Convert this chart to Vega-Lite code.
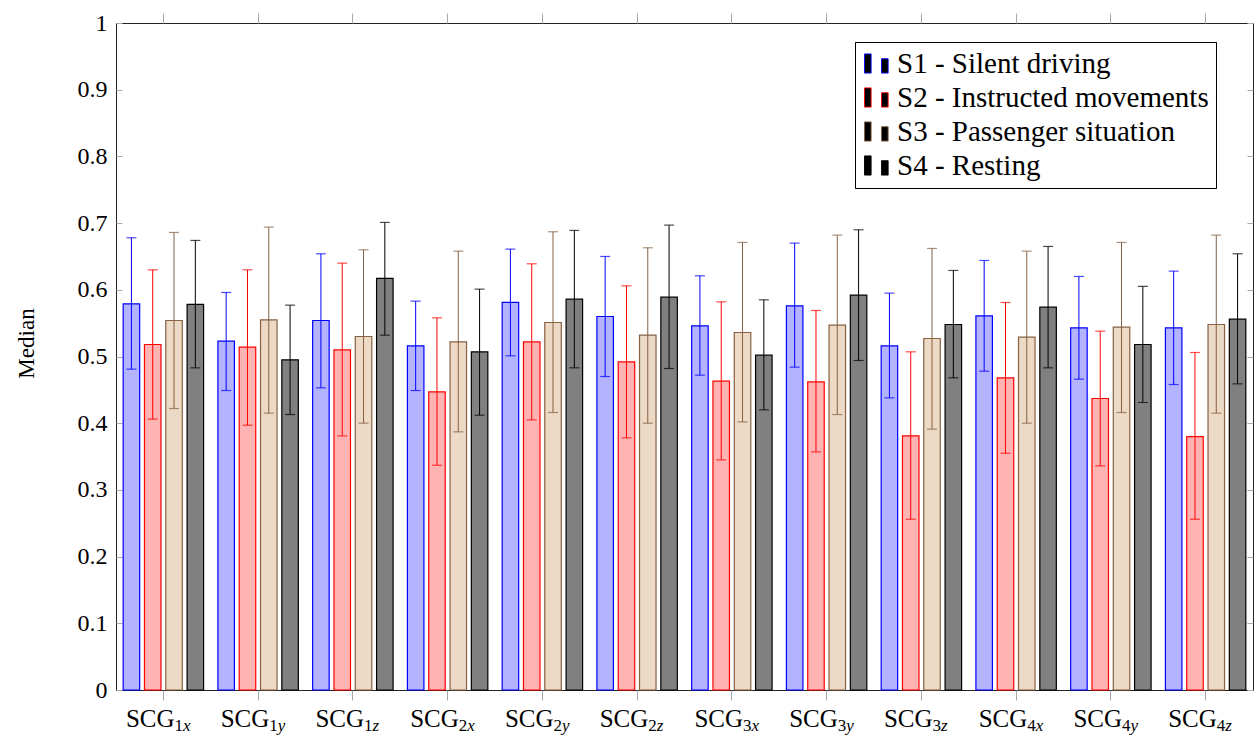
{
  "$schema": "https://vega.github.io/schema/vega-lite/v6.json",
  "width": 1137,
  "height": 667,
  "autosize": {"type": "none"},
  "padding": {"left": 116, "top": 23, "right": 2, "bottom": 49},
  "background": "white",
  "config": {
    "font": "Liberation Serif",
    "style": {
      "guide-label": {"font": "Liberation Serif", "fill": "black"},
      "guide-title": {"font": "Liberation Serif", "fill": "black"}
    },
    "view": {"stroke": "#222222", "strokeWidth": 1},
    "axis": {"grid": false, "labelFont": "Liberation Serif", "titleFont": "Liberation Serif", "labelColor": "black", "titleColor": "black"},
    "legend": {
      "orient": "none",
      "legendX": 739,
      "legendY": 19,
      "titleFont": "Liberation Serif",
      "symbolType": "M-1,-0.8H-0.45V0.8H-1Z M0.42,-0.4H0.97V0.8H0.42Z",
      "symbolSize": 576,
      "symbolStrokeWidth": 0.9,
      "symbolOpacity": 1,
      "labelFontSize": 29,
      "labelFont": "Liberation Serif",
      "labelColor": "black",
      "labelLimit": 600,
      "labelOffset": 6,
      "rowPadding": 4,
      "padding": 7,
      "strokeColor": "black",
      "fillColor": "white"
    }
  },
  "datasets": {
    "bars": [
      {"group": "1x", "series": "S1 - Silent driving", "median": 0.579, "lo": 0.481, "hi": 0.678},
      {"group": "1x", "series": "S2 - Instructed movements", "median": 0.518, "lo": 0.406, "hi": 0.630},
      {"group": "1x", "series": "S3 - Passenger situation", "median": 0.554, "lo": 0.422, "hi": 0.686},
      {"group": "1x", "series": "S4 - Resting", "median": 0.578, "lo": 0.483, "hi": 0.674},
      {"group": "1y", "series": "S1 - Silent driving", "median": 0.523, "lo": 0.449, "hi": 0.596},
      {"group": "1y", "series": "S2 - Instructed movements", "median": 0.514, "lo": 0.397, "hi": 0.630},
      {"group": "1y", "series": "S3 - Passenger situation", "median": 0.555, "lo": 0.415, "hi": 0.694},
      {"group": "1y", "series": "S4 - Resting", "median": 0.495, "lo": 0.413, "hi": 0.577},
      {"group": "1z", "series": "S1 - Silent driving", "median": 0.554, "lo": 0.453, "hi": 0.654},
      {"group": "1z", "series": "S2 - Instructed movements", "median": 0.510, "lo": 0.381, "hi": 0.640},
      {"group": "1z", "series": "S3 - Passenger situation", "median": 0.530, "lo": 0.400, "hi": 0.660},
      {"group": "1z", "series": "S4 - Resting", "median": 0.617, "lo": 0.532, "hi": 0.701},
      {"group": "2x", "series": "S1 - Silent driving", "median": 0.516, "lo": 0.449, "hi": 0.583},
      {"group": "2x", "series": "S2 - Instructed movements", "median": 0.447, "lo": 0.337, "hi": 0.558},
      {"group": "2x", "series": "S3 - Passenger situation", "median": 0.522, "lo": 0.387, "hi": 0.658},
      {"group": "2x", "series": "S4 - Resting", "median": 0.507, "lo": 0.412, "hi": 0.601},
      {"group": "2y", "series": "S1 - Silent driving", "median": 0.581, "lo": 0.501, "hi": 0.661},
      {"group": "2y", "series": "S2 - Instructed movements", "median": 0.522, "lo": 0.405, "hi": 0.639},
      {"group": "2y", "series": "S3 - Passenger situation", "median": 0.551, "lo": 0.416, "hi": 0.687},
      {"group": "2y", "series": "S4 - Resting", "median": 0.586, "lo": 0.483, "hi": 0.689},
      {"group": "2z", "series": "S1 - Silent driving", "median": 0.560, "lo": 0.470, "hi": 0.650},
      {"group": "2z", "series": "S2 - Instructed movements", "median": 0.492, "lo": 0.378, "hi": 0.606},
      {"group": "2z", "series": "S3 - Passenger situation", "median": 0.532, "lo": 0.400, "hi": 0.663},
      {"group": "2z", "series": "S4 - Resting", "median": 0.589, "lo": 0.482, "hi": 0.697},
      {"group": "3x", "series": "S1 - Silent driving", "median": 0.546, "lo": 0.472, "hi": 0.621},
      {"group": "3x", "series": "S2 - Instructed movements", "median": 0.463, "lo": 0.345, "hi": 0.582},
      {"group": "3x", "series": "S3 - Passenger situation", "median": 0.536, "lo": 0.402, "hi": 0.671},
      {"group": "3x", "series": "S4 - Resting", "median": 0.502, "lo": 0.420, "hi": 0.585},
      {"group": "3y", "series": "S1 - Silent driving", "median": 0.576, "lo": 0.484, "hi": 0.670},
      {"group": "3y", "series": "S2 - Instructed movements", "median": 0.462, "lo": 0.357, "hi": 0.569},
      {"group": "3y", "series": "S3 - Passenger situation", "median": 0.547, "lo": 0.413, "hi": 0.682},
      {"group": "3y", "series": "S4 - Resting", "median": 0.592, "lo": 0.494, "hi": 0.690},
      {"group": "3z", "series": "S1 - Silent driving", "median": 0.516, "lo": 0.438, "hi": 0.595},
      {"group": "3z", "series": "S2 - Instructed movements", "median": 0.381, "lo": 0.256, "hi": 0.507},
      {"group": "3z", "series": "S3 - Passenger situation", "median": 0.527, "lo": 0.391, "hi": 0.662},
      {"group": "3z", "series": "S4 - Resting", "median": 0.548, "lo": 0.468, "hi": 0.629},
      {"group": "4x", "series": "S1 - Silent driving", "median": 0.561, "lo": 0.478, "hi": 0.644},
      {"group": "4x", "series": "S2 - Instructed movements", "median": 0.468, "lo": 0.355, "hi": 0.581},
      {"group": "4x", "series": "S3 - Passenger situation", "median": 0.529, "lo": 0.400, "hi": 0.658},
      {"group": "4x", "series": "S4 - Resting", "median": 0.574, "lo": 0.483, "hi": 0.665},
      {"group": "4y", "series": "S1 - Silent driving", "median": 0.543, "lo": 0.466, "hi": 0.620},
      {"group": "4y", "series": "S2 - Instructed movements", "median": 0.437, "lo": 0.336, "hi": 0.538},
      {"group": "4y", "series": "S3 - Passenger situation", "median": 0.544, "lo": 0.416, "hi": 0.671},
      {"group": "4y", "series": "S4 - Resting", "median": 0.518, "lo": 0.431, "hi": 0.605},
      {"group": "4z", "series": "S1 - Silent driving", "median": 0.543, "lo": 0.458, "hi": 0.628},
      {"group": "4z", "series": "S2 - Instructed movements", "median": 0.380, "lo": 0.256, "hi": 0.506},
      {"group": "4z", "series": "S3 - Passenger situation", "median": 0.548, "lo": 0.415, "hi": 0.682},
      {"group": "4z", "series": "S4 - Resting", "median": 0.556, "lo": 0.459, "hi": 0.654}
    ],
    "labels": [
      {"group": "1x", "num": "1", "comp": "x"},
      {"group": "1y", "num": "1", "comp": "y"},
      {"group": "1z", "num": "1", "comp": "z"},
      {"group": "2x", "num": "2", "comp": "x"},
      {"group": "2y", "num": "2", "comp": "y"},
      {"group": "2z", "num": "2", "comp": "z"},
      {"group": "3x", "num": "3", "comp": "x"},
      {"group": "3y", "num": "3", "comp": "y"},
      {"group": "3z", "num": "3", "comp": "z"},
      {"group": "4x", "num": "4", "comp": "x"},
      {"group": "4y", "num": "4", "comp": "y"},
      {"group": "4z", "num": "4", "comp": "z"}
    ]
  },
  "layer": [
    {
      "data": {"name": "bars"},
      "mark": {"type": "bar", "strokeWidth": 1.2, "fillOpacity": 1},
      "encoding": {
        "x": {
          "field": "group", "type": "nominal",
          "scale": {"domain": ["1x","1y","1z","2x","2y","2z","3x","3y","3z","4x","4y","4z"], "paddingInner": 0, "paddingOuter": 0},
          "axis": {"orient": "bottom", "labels": false, "title": null, "domain": false, "ticks": true, "tickSize": 10, "tickColor": "#aaaaaa", "tickWidth": 1}
        },
        "xOffset": {
          "field": "series", "type": "nominal",
          "scale": {"paddingInner": 0.225, "paddingOuter": 0.336}
        },
        "y": {
          "field": "median", "type": "quantitative",
          "scale": {"domain": [0, 1], "nice": false, "zero": true},
          "axis": {
            "orient": "left",
            "values": [0, 0.1, 0.2, 0.3, 0.4, 0.5, 0.6, 0.7, 0.8, 0.9, 1],
            "format": ".1~f",
            "domain": false,
            "tickSize": -6,
            "tickColor": "#aaaaaa",
            "labelPadding": 15,
            "labelFontSize": 24,
            "labelFont": "Liberation Serif",
            "title": "Median",
            "titleFontSize": 23,
            "titleFontWeight": "normal",
            "titleAngle": -90,
            "titleX": -83,
            "titleY": 320,
            "titleAlign": "center",
            "titleBaseline": "alphabetic"
          }
        },
        "fill": {
          "field": "series", "type": "nominal",
          "scale": {"range": ["#b3b3ff", "#ffb3b3", "#ecd9c6", "#808080"]},
          "legend": {"title": null}
        },
        "stroke": {
          "field": "series", "type": "nominal",
          "scale": {"range": ["#0000ff", "#ff0000", "#866142", "#000000"]},
          "legend": {"title": null}
        }
      }
    },
    {
      "data": {"name": "bars"},
      "mark": {"type": "rule", "strokeWidth": 1},
      "encoding": {
        "x": {
          "field": "group", "type": "nominal",
          "axis": {"orient": "top", "labels": false, "title": null, "domain": false, "ticks": true, "tickSize": 10, "tickColor": "#aaaaaa"}
        },
        "xOffset": {"field": "series", "type": "nominal"},
        "y": {
          "field": "lo", "type": "quantitative",
          "axis": {"orient": "right", "labels": false, "title": null, "domain": false, "tickSize": -6, "tickColor": "#aaaaaa", "values": [0, 0.1, 0.2, 0.3, 0.4, 0.5, 0.6, 0.7, 0.8, 0.9, 1]}
        },
        "y2": {"field": "hi"},
        "stroke": {"field": "series", "type": "nominal", "legend": {"title": null}}
      }
    },
    {
      "data": {"name": "bars"},
      "mark": {"type": "tick", "size": 10, "thickness": 1.2, "orient": "horizontal"},
      "encoding": {
        "x": {"field": "group", "type": "nominal", "axis": null},
        "xOffset": {"field": "series", "type": "nominal"},
        "y": {"field": "lo", "type": "quantitative", "axis": null},
        "color": {
          "field": "series", "type": "nominal",
          "scale": {"range": ["#0000ff", "#ff0000", "#866142", "#000000"]},
          "legend": null
        }
      }
    },
    {
      "data": {"name": "bars"},
      "mark": {"type": "tick", "size": 10, "thickness": 1.2, "orient": "horizontal"},
      "encoding": {
        "x": {"field": "group", "type": "nominal", "axis": null},
        "xOffset": {"field": "series", "type": "nominal"},
        "y": {"field": "hi", "type": "quantitative", "axis": null},
        "color": {"field": "series", "type": "nominal", "legend": null}
      }
    },
    {
      "data": {"name": "labels"},
      "mark": {"type": "text", "align": "left", "baseline": "alphabetic", "dx": -37.5, "dy": 37, "fontSize": 25, "font": "Liberation Serif", "color": "black"},
      "encoding": {
        "x": {"field": "group", "type": "nominal", "axis": null},
        "y": {"datum": 0, "type": "quantitative", "axis": null},
        "text": {"value": "SCG"}
      }
    },
    {
      "data": {"name": "labels"},
      "mark": {"type": "text", "align": "left", "baseline": "alphabetic", "dx": 11, "dy": 41, "fontSize": 17, "font": "Liberation Serif", "color": "black"},
      "encoding": {
        "x": {"field": "group", "type": "nominal", "axis": null},
        "y": {"datum": 0, "type": "quantitative", "axis": null},
        "text": {"field": "num"}
      }
    },
    {
      "data": {"name": "labels"},
      "mark": {"type": "text", "align": "left", "baseline": "alphabetic", "dx": 19.5, "dy": 41, "fontSize": 17, "fontStyle": "italic", "font": "Liberation Serif", "color": "black"},
      "encoding": {
        "x": {"field": "group", "type": "nominal", "axis": null},
        "y": {"datum": 0, "type": "quantitative", "axis": null},
        "text": {"field": "comp"}
      }
    }
  ]
}
